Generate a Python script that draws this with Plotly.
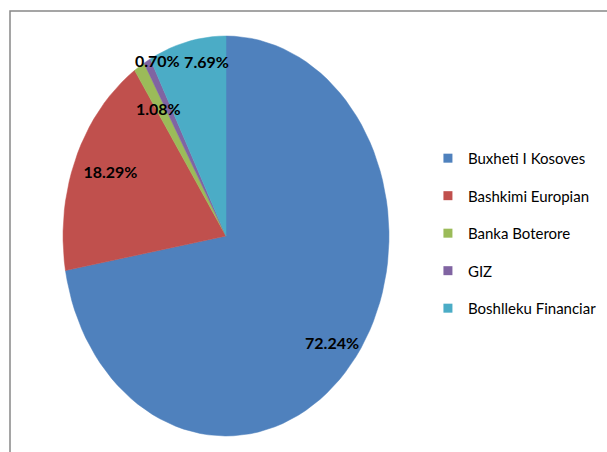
"""Funding sources pie (Excel-style, slightly elliptical)."""

import numpy as np
import plotly.graph_objects as go

# data
sources = ["Buxheti I Kosoves", "Bashkimi Europian", "Banka Boterore", "GIZ", "Boshlleku Financiar"]
shares = [72.24, 18.29, 1.08, 0.70, 7.69]

# styling
colors = ["#4F81BD", "#C0504D", "#9BBB59", "#8064A2", "#4BACC6"]
# label anchor as fraction of the radius (x, y) for each slice
label_pos = [(0.85, 0.85), (0.77, 0.80), (0.78, 0.74), (0.87, 0.99), (0.50, 0.885)]
CX, CY, RX, RY = 226, 236, 163, 200
W, H = 607, 452
TXT_FONT = "Lato, Roboto, sans-serif"


def wedge(t0, t1, n=120):
    t = np.linspace(t0, t1, max(3, int(n * (t1 - t0)) + 3)) * 2 * np.pi
    x = np.concatenate([[CX], CX + RX * np.sin(t), [CX]])
    y = np.concatenate([[CY], CY - RY * np.cos(t), [CY]])
    return x, y


fig = go.Figure()
total = sum(shares)
start = 0.0
lx, ly, lt = [], [], []
for name, val, col, (fx, fy) in zip(sources, shares, colors, label_pos):
    frac = val / total
    x, y = wedge(start, start + frac)
    fig.add_trace(go.Scatter(
        x=x, y=y, mode="lines", fill="toself", fillcolor=col,
        line={"color": col, "width": 0.5}, hoverinfo="text",
        text=f"{name}: {val:.2f}%", showlegend=False,
    ))
    mid = (start + frac / 2) * 2 * np.pi
    lx.append(CX + fx * RX * np.sin(mid))
    ly.append(CY - fy * RY * np.cos(mid))
    lt.append(f"<b>{val:.2f}%</b>")
    start += frac

fig.add_trace(go.Scatter(
    x=lx, y=ly, mode="text", text=lt, textposition="middle center",
    textfont={"family": TXT_FONT, "size": 16, "color": "black"},
    hoverinfo="skip", showlegend=False,
))

# legend entries
for i, (name, col) in enumerate(zip(sources, colors)):
    fig.add_trace(go.Scatter(
        x=[None], y=[None], mode="markers", name=name, legendgroup=f"g{i}",
        marker={"symbol": "square", "size": 9, "color": col},
    ))

# chart frame
fig.add_shape(type="rect", x0=10, y0=11, x1=W + 20, y1=H + 20,
              line={"color": "#888888", "width": 1.5}, layer="below")

fig.update_xaxes(range=[0, W], visible=False, fixedrange=True)
fig.update_yaxes(range=[H, 0], visible=False, fixedrange=True)
fig.update_layout(
    width=W, height=H,
    margin={"l": 0, "r": 0, "t": 0, "b": 0},
    paper_bgcolor="white", plot_bgcolor="white",
    legend={
        "x": 0.705, "y": 0.686, "xanchor": "left", "yanchor": "top",
        "font": {"family": TXT_FONT, "size": 15, "color": "black"},
        "tracegroupgap": 15, "itemwidth": 30, "bgcolor": "rgba(0,0,0,0)",
    },
)

fig.write_html("out.html", config={"displayModeBar": False},
               post_script="document.body.style.margin='0';")
